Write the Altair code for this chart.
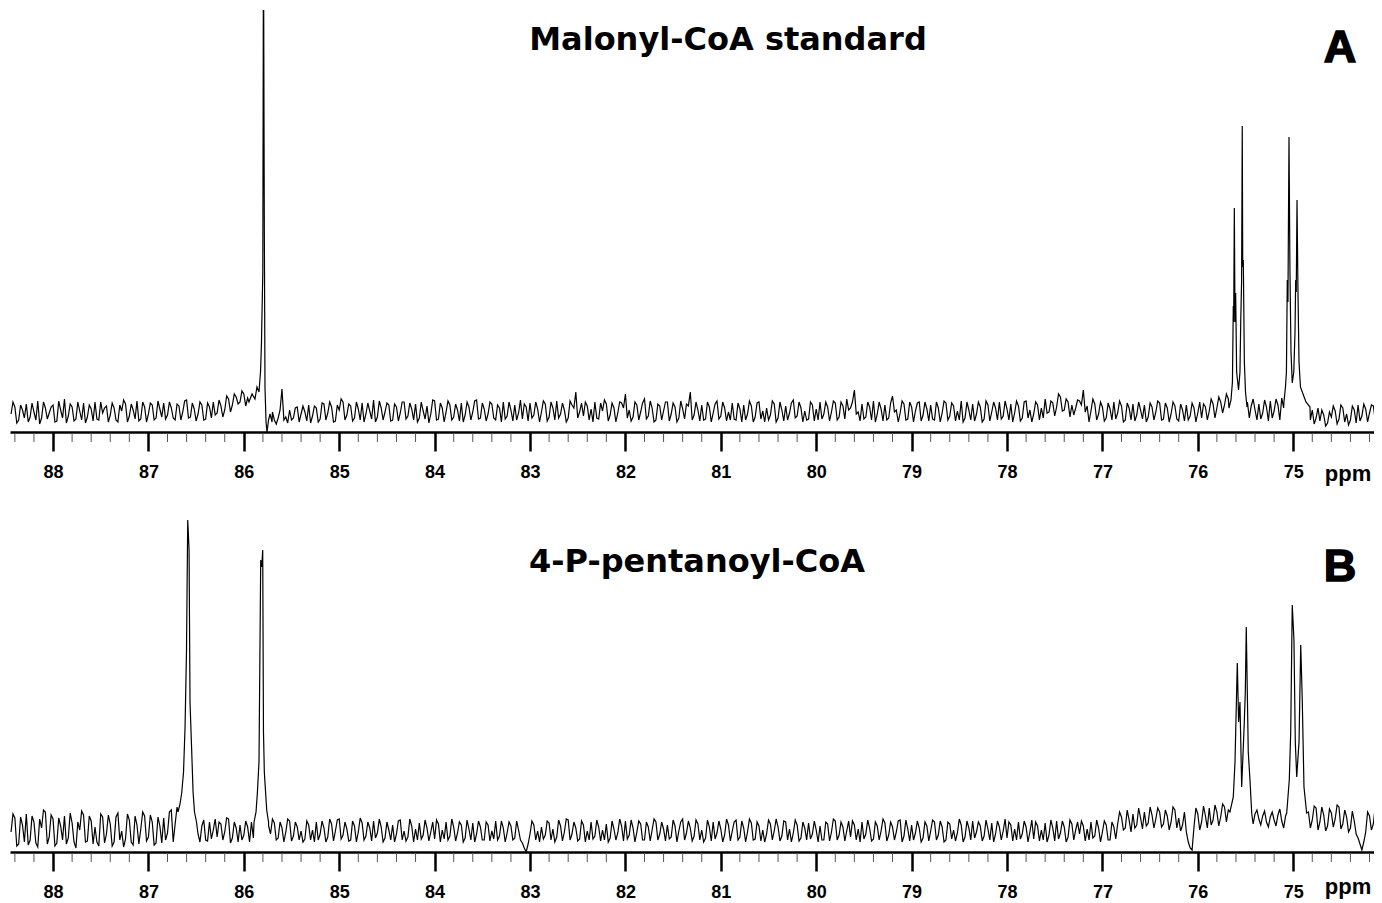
import altair as alt
import pandas as pd

# ---------------- data ----------------
NOISE_START = 88.44   # ppm of first baseline sample
NOISE_STEP = 0.04     # ppm between baseline samples (second set sits half a step later)

# baseline (noise) heights, panel A
noise_a = [
    18, 25, 12, 22, 28, 15, 20, 31, 14, 24, 19, 27, 11, 22, 33, 16, 25, 13, 21, 29,
    15, 23, 30, 12, 19, 26, 17, 24, 10, 21, 28, 16, 22, 31, 13, 25, 18, 27, 14, 23,
    29, 17, 24, 12, 26, 20, 32, 15, 23, 18, 27, 13, 25, 30, 19, 26, 22, 33, 27, 35,
    30, 38, 34, 20, 20, 20, 20, 20, 20, 12, 14, 43, 15, 22, 14, 25, 18, 20, 27, 16,
    24, 13, 28, 19, 25, 11, 22, 30, 17, 26, 14, 23, 29, 18, 21, 32, 15, 24, 20, 27,
    12, 25, 19, 30, 16, 23, 28, 14, 21, 26, 18, 31, 13, 24, 20, 27, 15, 22, 29, 17,
    25, 20, 32, 14, 23, 18, 28, 12, 24, 30, 16, 22, 27, 19, 13, 25, 29, 17, 23, 20,
    28, 15, 24, 31, 18, 22, 14, 27, 40, 20, 16, 26, 23, 30, 13, 21, 28, 17, 24, 19,
    29, 38, 22, 15, 27, 20, 33, 16, 24, 12, 26, 21, 30, 18, 25, 14, 23, 28, 40, 17,
    22, 27, 13, 25, 19, 31, 16, 24, 20, 29, 12, 23, 27, 18, 26, 15, 30, 21, 24, 17,
    28, 14, 22, 26, 19, 32, 16, 24, 21, 13, 27, 23, 30, 18, 25, 20, 29, 15, 26, 33,
    24, 42, 20, 28, 15, 25, 31, 18, 23, 27, 14, 36, 22, 19, 28, 13, 25, 21, 30, 17,
    23, 27, 12, 24, 19, 29, 16, 26, 21, 31, 14, 22, 28, 18, 25, 13, 27, 20, 24, 30,
    16, 23, 28, 19, 26, 14, 31, 22, 18, 27, 24, 33, 20, 29, 25, 35, 22, 30, 27, 24,
    31, 42, 26, 21, 28, 18, 25, 14, 23, 30, 19, 26, 12, 24, 28, 17, 22, 27, 15, 25,
    20, 29, 13, 24, 18, 26, 11, 22, 27, 16, 24, 19, 14, 25, 21, 28, 24, 30, 27, 33,
    20, 20, 20, 20, 30, 26, 22, 28, 19, 25, 31, 21, 27, 34, 20, 20, 20, 20, 20, 20,
    20, 22, 14, 11, 17, 9, 15, 21, 13, 24, 18, 12, 22, 27, 16, 23, 19, 26, 14, 21,
]
noise_a_mid = [
    30, 9, 27, 14, 10, 29, 12, 8, 30, 13, 25, 10, 31, 14, 9, 28, 11, 30, 12, 9,
    27, 11, 13, 30, 24, 10, 29, 12, 27, 32, 10, 28, 13, 11, 30, 10, 29, 12, 31, 15,
    13, 30, 14, 28, 12, 31, 14, 29, 11, 30, 12, 29, 14, 17, 32, 15, 36, 20, 38, 28,
    41, 26, 20, 20, 20, 20, 20, 20, 20, 8, 22, 12, 9, 12, 24, 10, 26, 11, 9, 26,
    10, 29, 12, 30, 10, 27, 33, 12, 28, 11, 30, 12, 10, 29, 13, 10, 31, 12, 29, 11,
    28, 11, 30, 13, 29, 12, 10, 30, 13, 9, 32, 12, 29, 10, 31, 12, 28, 11, 10, 30,
    12, 31, 13, 29, 11, 30, 14, 27, 10, 13, 30, 11, 12, 32, 28, 11, 14, 30, 10, 31,
    11, 30, 12, 14, 29, 10, 31, 24, 14, 29, 30, 12, 10, 14, 29, 32, 11, 29, 10, 30,
    24, 14, 11, 30, 12, 29, 13, 31, 10, 28, 12, 30, 11, 29, 10, 31, 13, 26, 12, 30,
    11, 12, 30, 10, 28, 13, 30, 11, 12, 13, 29, 10, 12, 31, 10, 29, 13, 10, 12, 31,
    10, 30, 11, 12, 29, 14, 30, 10, 12, 30, 11, 12, 13, 30, 11, 31, 12, 30, 13, 22,
    30, 18, 11, 13, 30, 12, 10, 30, 11, 12, 29, 20, 10, 31, 12, 30, 10, 29, 11, 30,
    11, 13, 30, 10, 31, 12, 29, 11, 12, 10, 30, 12, 11, 30, 10, 31, 11, 30, 12, 13,
    31, 12, 10, 31, 11, 30, 14, 10, 30, 12, 14, 19, 31, 16, 38, 21, 33, 15, 17, 32,
    27, 20, 10, 33, 12, 30, 11, 29, 12, 13, 31, 10, 29, 12, 11, 30, 13, 10, 29, 12,
    31, 12, 29, 10, 30, 13, 28, 11, 12, 29, 10, 30, 28, 12, 33, 14, 35, 19, 38, 26,
    20, 20, 20, 20, 14, 33, 12, 13, 32, 11, 14, 33, 12, 24, 20, 20, 20, 20, 20, 20,
    12, 8, 24, 22, 6, 20, 26, 8, 27, 10, 7, 26, 9, 11, 28, 10, 27, 12, 28, 10,
]

# baseline (noise) heights, panel B
noise_b = [
    20, 34, 8, 27, 38, 12, 30, 5, 24, 40, 15, 33, 9, 26, 36, 14, 29, 4, 22, 37,
    11, 31, 25, 6, 35, 18, 28, 10, 39, 21, 13, 32, 7, 27, 23, 36, 15, 30, 9, 26,
    34, 19, 42, 28, 20, 20, 20, 20, 20, 18, 26, 12, 30, 22, 15, 28, 20, 33, 14, 24,
    27, 17, 25, 30, 20, 20, 20, 20, 18, 29, 14, 24, 20, 31, 16, 25, 21, 13, 27, 22,
    30, 18, 24, 15, 28, 21, 33, 17, 23, 12, 26, 20, 29, 16, 24, 31, 19, 25, 14, 22,
    27, 18, 32, 21, 15, 26, 23, 29, 17, 24, 20, 13, 28, 22, 30, 16, 25, 19, 27, 14,
    23, 29, 18, 25, 12, 27, 21, 31, 16, 24, 19, 26, 14, 22, 9, 0, 18, 27, 21, 25,
    17, 29, 23, 15, 26, 20, 32, 18, 24, 13, 27, 21, 30, 16, 25, 22, 28, 14, 23, 19,
    26, 31, 17, 24, 20, 28, 12, 25, 22, 30, 18, 23, 27, 15, 26, 21, 33, 19, 24, 16,
    28, 22, 14, 25, 30, 19, 23, 17, 27, 21, 32, 15, 24, 20, 29, 13, 26, 22, 18, 28,
    21, 25, 16, 30, 23, 19, 27, 14, 24, 29, 18, 22, 26, 12, 28, 20, 31, 17, 25, 21,
    15, 27, 23, 30, 18, 24, 13, 26, 21, 29, 17, 25, 20, 32, 16, 23, 27, 19, 24, 14,
    26, 21, 30, 17, 25, 12, 28, 22, 19, 27, 15, 24, 31, 20, 26, 16, 23, 29, 18, 25,
    21, 14, 27, 23, 30, 18, 25, 20, 13, 26, 22, 29, 17, 24, 31, 19, 25, 15, 28, 22,
    18, 26, 23, 30, 16, 24, 20, 27, 12, 25, 28, 35, 24, 32, 38, 27, 34, 40, 29, 37,
    33, 40, 28, 36, 30, 42, 34, 27, 20, 4, 25, 38, 30, 36, 44, 32, 40, 35, 45, 42,
    20, 20, 20, 20, 20, 20, 38, 33, 36, 30, 35, 32, 37, 31, 36, 20, 20, 20, 20, 20,
    40, 32, 44, 30, 37, 26, 39, 33, 45, 28, 35, 24, 31, 14, 2, 20, 36, 28, 41, 33,
]
noise_b_mid = [
    38, 6, 35, 10, 7, 36, 9, 33, 42, 8, 37, 6, 34, 12, 8, 39, 10, 30, 41, 10,
    36, 8, 10, 38, 9, 37, 6, 35, 12, 5, 38, 10, 36, 8, 40, 11, 37, 7, 35, 9,
    12, 40, 10, 45, 20, 20, 20, 20, 20, 10, 32, 11, 13, 33, 30, 12, 34, 9, 30, 10,
    12, 31, 10, 14, 20, 20, 20, 26, 33, 12, 30, 10, 33, 11, 30, 12, 10, 31, 12, 10,
    12, 31, 10, 33, 11, 32, 13, 30, 11, 31, 10, 34, 12, 30, 11, 14, 33, 10, 30, 12,
    10, 31, 12, 11, 33, 10, 12, 13, 32, 11, 30, 32, 10, 13, 12, 33, 11, 30, 10, 32,
    12, 10, 31, 12, 30, 11, 13, 12, 31, 10, 30, 12, 31, 12, 4, 8, 31, 12, 10, 13,
    31, 12, 10, 32, 11, 33, 12, 30, 11, 31, 10, 12, 13, 32, 11, 12, 10, 31, 12, 33,
    11, 13, 32, 10, 31, 12, 30, 11, 33, 12, 30, 11, 13, 32, 10, 30, 12, 31, 11, 32,
    12, 10, 32, 11, 13, 31, 10, 33, 11, 30, 12, 31, 10, 33, 12, 30, 11, 10, 32, 12,
    33, 11, 31, 12, 10, 32, 11, 30, 12, 13, 31, 10, 12, 30, 11, 33, 12, 30, 11, 31,
    31, 12, 10, 13, 32, 11, 30, 12, 33, 11, 30, 12, 31, 10, 32, 11, 12, 31, 10, 30,
    11, 32, 12, 31, 10, 30, 13, 11, 33, 10, 31, 12, 14, 30, 11, 32, 12, 10, 31, 12,
    33, 30, 11, 12, 13, 31, 10, 32, 30, 11, 12, 10, 32, 11, 13, 31, 10, 32, 12, 30,
    31, 11, 12, 14, 32, 10, 31, 12, 30, 13, 40, 22, 42, 20, 24, 44, 23, 26, 45, 24,
    44, 25, 42, 22, 45, 24, 21, 40, 10, 2, 44, 22, 46, 24, 27, 47, 26, 48, 30, 20,
    20, 20, 20, 20, 20, 28, 42, 27, 41, 25, 40, 26, 43, 24, 20, 20, 20, 20, 20, 20,
    24, 46, 22, 45, 21, 43, 25, 47, 23, 42, 20, 41, 18, 8, 10, 40, 22, 46, 25, 44,
]

# peaks, panel A (ppm, height)
a_p1_ppm = [85.946, 85.914, 85.883, 85.862, 85.841, 85.825, 85.815, 85.801, 85.794,
            85.785, 85.778, 85.767, 85.757, 85.741, 85.725, 85.704]
a_p1_h = [30, 38, 33, 45, 40, 60, 89, 160, 500, 200, 44, 10, 0, 12, 18, 10]

a_g1_ppm = [75.673, 75.652, 75.637, 75.628, 75.624, 75.617, 75.610, 75.603, 75.593,
            75.573, 75.558, 75.550, 75.541, 75.534, 75.529, 75.523, 75.512, 75.500, 75.484]
a_g1_h = [24, 32, 50, 126, 110, 224, 110, 139, 60, 42, 60, 110, 150, 306, 165, 172, 70, 40, 25]

a_g2_ppm = [75.097, 75.081, 75.071, 75.062, 75.055, 75.044, 75.034, 75.023, 75.010, 74.994,
            74.981, 74.974, 74.968, 74.960, 74.950, 74.939, 74.924, 74.897, 74.866, 74.824]
a_g2_h = [30, 45, 60, 152, 130, 295, 160, 80, 49, 60, 100, 152, 140, 232, 140, 70, 45, 38, 30, 25]

# peaks, panel B (ppm, height)
b_p1_ppm = [86.690, 86.669, 86.651, 86.632, 86.616, 86.601, 86.588, 86.574, 86.564,
            86.546, 86.532, 86.517, 86.496]
b_p1_h = [40, 48, 59, 80, 125, 200, 332, 302, 150, 100, 60, 40, 30]

b_p2_ppm = [85.893, 85.872, 85.858, 85.841, 85.823, 85.812, 85.802, 85.794, 85.785,
            85.778, 85.760, 85.741]
b_p2_h = [30, 40, 59, 90, 292, 285, 302, 120, 80, 69, 42, 30]

b_g1_ppm = [75.663, 75.628, 75.610, 75.586, 75.572, 75.558, 75.540, 75.513, 75.502,
            75.492, 75.471, 75.453, 75.435]
b_g1_h = [40, 55, 90, 189, 130, 150, 65, 129, 160, 225, 100, 72, 39]

b_g2_ppm = [75.068, 75.041, 75.026, 75.010, 74.992, 74.978, 74.963, 74.939, 74.921,
            74.905, 74.887, 74.859]
b_g2_h = [39, 72, 120, 247, 212, 110, 75, 110, 207, 152, 65, 39]

major_ticks = list(range(88, 74, -1))                                   # 88 ... 75
minor_ticks = [round(88.4 - 0.2 * k, 1) for k in range(72)]             # 88.4 ... 74.2
minor_ticks = [t for t in minor_ticks if abs(t - round(t)) > 0.01]

title_a = "Malonyl-CoA standard"
title_b = "4-P-pentanoyl-CoA"


# ---------------- build the spectra ----------------
def spectrum(noise, noise_mid, peaks):
    pts = [(round(NOISE_START - NOISE_STEP * i, 3), v) for i, v in enumerate(noise)]
    pts += [(round(NOISE_START - NOISE_STEP * (i + 0.5), 3), v) for i, v in enumerate(noise_mid)]
    for ppm, h in peaks:
        lo, hi = min(ppm), max(ppm)
        pts = [p for p in pts if not (lo <= p[0] <= hi)]
        pts += list(zip(ppm, h))
    pts.sort(key=lambda p: -p[0])
    df = pd.DataFrame(pts, columns=["ppm", "h"])
    df["order"] = range(len(df))
    return df


spec_a = spectrum(noise_a, noise_a_mid, [(a_p1_ppm, a_p1_h), (a_g1_ppm, a_g1_h), (a_g2_ppm, a_g2_h)])
spec_b = spectrum(noise_b, noise_b_mid,
                  [(b_p1_ppm, b_p1_h), (b_p2_ppm, b_p2_h), (b_g1_ppm, b_g1_h), (b_g2_ppm, b_g2_h)])
minor_df = pd.DataFrame({"ppm": minor_ticks})

W = 1364
H_A = 422
H_B = 347
FONT = "Liberation Sans"
TITLE_FONT = "DejaVu Sans"

xscale = alt.Scale(domain=[74.153, 88.451], reverse=True, nice=False, zero=False)


def x_axis():
    return alt.Axis(
        values=major_ticks,
        format="d",
        title=None,
        grid=False,
        domainColor="black",
        domainWidth=2.5,
        tickColor="black",
        tickWidth=2.5,
        tickSize=19,
        labelFont=FONT,
        labelFontWeight="bold",
        labelFontSize=18,
        labelColor="black",
        labelPadding=12,
        labelOverlap=False,
        labelFlush=False,
    )


def panel(df, height, title, title_x, title_y, letter, letter_y, ppm_dy):
    line = alt.Chart(df).mark_line(color="black", strokeWidth=1.2, clip=True).encode(
        x=alt.X("ppm:Q", scale=xscale, axis=x_axis()),
        y=alt.Y("h:Q", scale=alt.Scale(domain=[0, height], nice=False, zero=False), axis=None),
        order="order:Q",
    )
    minor = alt.Chart(minor_df).mark_rule(color="#555555", strokeWidth=1).encode(
        x=alt.X("ppm:Q", scale=xscale),
        y=alt.value(height + 1),
        y2=alt.value(height + 10),
    )
    ttl = alt.Chart(pd.DataFrame({"t": [title]})).mark_text(
        font=TITLE_FONT, fontWeight="bold", fontSize=32, color="black", align="center", baseline="alphabetic"
    ).encode(text="t:N", x=alt.value(title_x), y=alt.value(title_y))
    let = alt.Chart(pd.DataFrame({"t": [letter]})).mark_text(
        font=FONT, fontWeight="bold", fontSize=45, color="black", stroke="black", strokeWidth=1.5,
        align="center", baseline="alphabetic"
    ).encode(text="t:N", x=alt.value(1330), y=alt.value(letter_y))
    ppm = alt.Chart(pd.DataFrame({"t": ["ppm"]})).mark_text(
        font=FONT, fontWeight="bold", fontSize=22, color="black", align="center", baseline="alphabetic"
    ).encode(text="t:N", x=alt.value(1338), y=alt.value(height + ppm_dy))
    return alt.layer(line, minor, ttl, let, ppm).properties(width=W, height=height)


panel_a = panel(spec_a, H_A, title_a, 718, 40, "A", 52, 49)
panel_b = panel(spec_b, H_B, title_b, 687, 67, "B", 76, 42)

chart = alt.vconcat(panel_a, panel_b, spacing=73, bounds="flush").properties(
    padding={"left": 2, "top": 2, "right": 0, "bottom": 0}
).configure_view(stroke=None)

chart.save("out.html", embed_options={"renderer": "svg", "actions": False})
